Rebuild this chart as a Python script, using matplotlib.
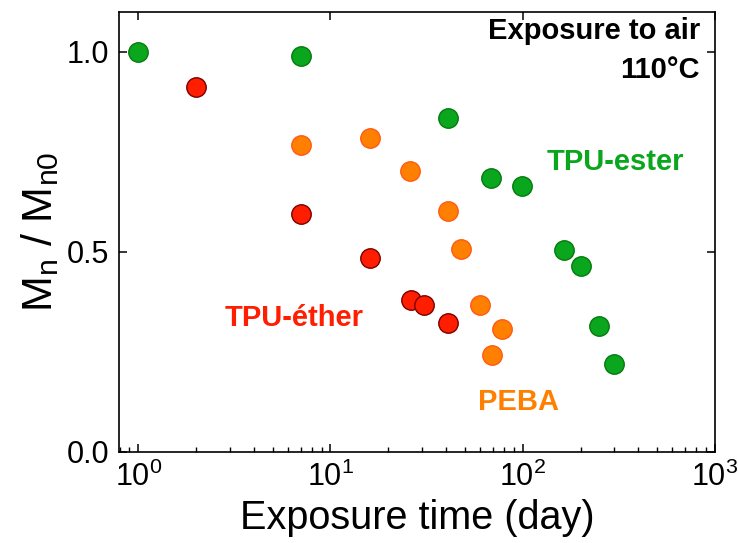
import matplotlib
matplotlib.use("Agg")
import matplotlib.pyplot as plt
from matplotlib.ticker import LogLocator, NullFormatter, FixedLocator

plt.rcParams['font.family'] = ['Liberation Sans', 'DejaVu Sans']
plt.rcParams['mathtext.fontset'] = 'custom'
plt.rcParams['mathtext.rm'] = 'Liberation Sans'
plt.rcParams['mathtext.it'] = 'Liberation Sans'

# TPU-ester (green)
ester_t = [1, 7, 41, 68, 99, 163, 200, 248, 300]
ester_m = [1.0, 0.99, 0.835, 0.685, 0.665, 0.505, 0.465, 0.315, 0.22]
# PEBA (orange)
peba_t = [7, 16, 26, 41, 48, 60, 78, 69]
peba_m = [0.767, 0.785, 0.702, 0.603, 0.507, 0.367, 0.307, 0.242]
# TPU-ether (red)
ether_t = [2, 7, 16, 26.3, 30.5, 41]
ether_m = [0.912, 0.595, 0.485, 0.38, 0.367, 0.323]

fig = plt.figure(figsize=(7.38, 5.43), dpi=100)
ax = fig.add_axes([0.1612, 0.1676, 0.8076, 0.8103])

ms = 14
ax.plot(ester_t, ester_m, 'o', ms=ms, mfc='#0aa61e', mec='#067a10', mew=1.0, ls='none', zorder=3)
ax.plot(peba_t, peba_m, 'o', ms=ms, mfc='#ff8000', mec='#ff5a14', mew=1.0, ls='none', zorder=3)
ax.plot(ether_t, ether_m, 'o', ms=ms, mfc='#ff1e00', mec='#7a0000', mew=1.0, ls='none', zorder=3)

ax.set_xscale('log')
ax.set_xlim(10 ** -0.1, 1000)
ax.set_ylim(0, 1.1)
ax.set_yticks([0.0, 0.5, 1.0])
ax.set_yticklabels(['0.0', '0.5', '1.0'])
ax.xaxis.set_major_locator(FixedLocator([1, 10, 100, 1000]))
ax.xaxis.set_minor_locator(LogLocator(base=10, subs=range(2, 10), numticks=20))
ax.xaxis.set_minor_formatter(NullFormatter())
ax.set_xticklabels([r'$\mathregular{10^{0}}$', r'$\mathregular{10^{1}}$',
                    r'$\mathregular{10^{2}}$', r'$\mathregular{10^{3}}$'])

for s in ax.spines.values():
    s.set_linewidth(1.2)
ax.tick_params(which='major', direction='in', length=6, width=1.1, labelsize=22,
               top=True, right=True, pad=7)
ax.tick_params(which='minor', direction='in', length=3.5, width=1.0, top=False)

ax.set_xlabel('Exposure time (day)', fontsize=28.5, labelpad=4)
ax.set_ylabel(r'M$_\mathregular{n}$ / M$_\mathregular{n0}$', fontsize=31, labelpad=4)

ax.text(0.975, 0.957, 'Exposure to air', transform=ax.transAxes, ha='right', va='center',
        fontsize=21, fontweight='bold', color='black')
ax.text(0.975, 0.868, '110°C', transform=ax.transAxes, ha='right', va='center',
        fontsize=21, fontweight='bold', color='black')
ax.text(0.718, 0.659, 'TPU-ester', transform=ax.transAxes, ha='left', va='center',
        fontsize=21, fontweight='bold', color='#0aa61e')
ax.text(0.178, 0.305, 'TPU-éther', transform=ax.transAxes, ha='left', va='center',
        fontsize=21, fontweight='bold', color='#ff1e00')
ax.text(0.602, 0.114, 'PEBA', transform=ax.transAxes, ha='left', va='center',
        fontsize=21, fontweight='bold', color='#ff8000')

fig.savefig('out.png', dpi=100)
